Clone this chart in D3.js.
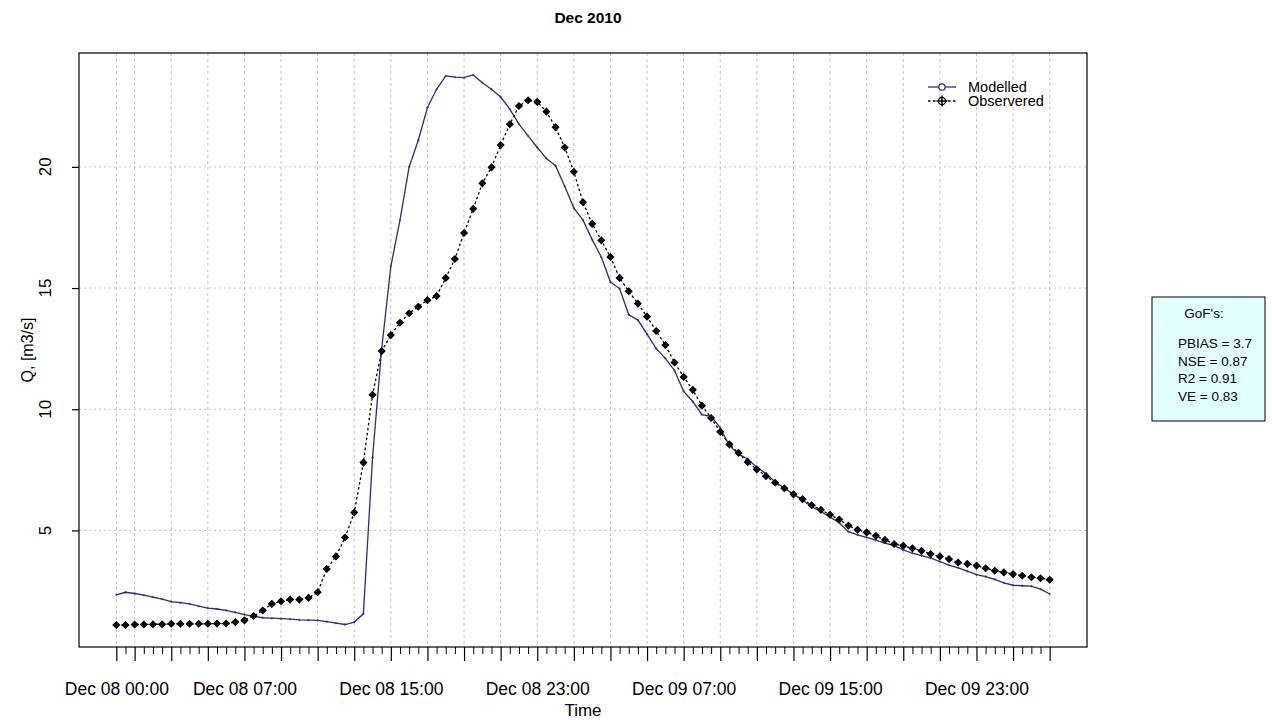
<!DOCTYPE html>
<html>
<head>
<meta charset="utf-8">
<script src="https://cdn.jsdelivr.net/npm/d3@7"></script>
<style>
  html, body { margin: 0; padding: 0; background: #fff; }
  svg { display: block; font-family: "Liberation Sans", Arial, sans-serif; }
</style>
</head>
<body>
<svg id="chart" width="1272" height="720"></svg>
<script>
// ---------------- data ----------------
const startTime = new Date(2010, 11, 8, 0, 0);   // Dec 08 2010 00:00
const stepMinutes = 30;

const modelled = [
  2.34, 2.45, 2.40, 2.33, 2.25, 2.17, 2.06, 2.02, 1.97, 1.88,
  1.80, 1.76, 1.70, 1.62, 1.53, 1.46, 1.40, 1.38, 1.36, 1.34,
  1.31, 1.30, 1.29, 1.24, 1.18, 1.12, 1.22, 1.56, 8.00, 12.50,
  15.90, 17.80, 20.00, 21.10, 22.45, 23.20, 23.75, 23.70, 23.68, 23.79,
  23.47, 23.20, 22.88, 22.38, 21.76, 21.28, 20.80, 20.35, 20.05, 19.20,
  18.30, 17.80, 17.00, 16.28, 15.25, 14.98, 13.90, 13.68, 13.10, 12.50,
  12.10, 11.60, 10.74, 10.32, 9.78, 9.71, 9.23, 8.50, 8.15, 7.95,
  7.60, 7.35, 7.00, 6.75, 6.50, 6.25, 5.98, 5.78, 5.55, 5.32,
  4.95, 4.82, 4.71, 4.60, 4.48, 4.37, 4.20, 4.06, 3.96, 3.86,
  3.72, 3.57, 3.46, 3.32, 3.18, 3.10, 2.98, 2.84, 2.74, 2.72,
  2.70, 2.58, 2.38
];

const observed = [
  1.10, 1.10, 1.12, 1.12, 1.13, 1.13, 1.15, 1.15, 1.15, 1.15,
  1.15, 1.16, 1.16, 1.22, 1.29, 1.47, 1.70, 1.97, 2.08, 2.15,
  2.15, 2.22, 2.45, 3.41, 3.93, 4.71, 5.74, 7.80, 10.60, 12.40,
  13.06, 13.57, 13.96, 14.23, 14.50, 14.67, 15.42, 16.20, 17.27, 18.27,
  19.32, 19.98, 20.90, 21.76, 22.51, 22.75, 22.68, 22.28, 21.63, 20.80,
  19.80, 18.54, 17.65, 16.97, 16.28, 15.42, 14.87, 14.36, 13.82, 13.23,
  12.65, 11.93, 11.33, 10.80, 10.15, 9.64, 9.07, 8.55, 8.20, 7.82,
  7.52, 7.24, 6.97, 6.74, 6.49, 6.29, 6.04, 5.85, 5.65, 5.45,
  5.20, 5.03, 4.92, 4.78, 4.61, 4.44, 4.37, 4.26, 4.16, 4.03,
  3.93, 3.82, 3.68, 3.62, 3.55, 3.44, 3.34, 3.27, 3.20, 3.13,
  3.07, 3.03, 2.97
];

// hours (from start) of the major ticks / labelled ticks
const majorTickHours = [0,1,3,5,7,9,11,13,15,17,19,21,23,25,27,29,31,33,35,37,39,41,43,45,47,49,51];
const labelTickHours = [0, 7, 15, 23, 31, 39, 47];
const labelTickTexts = ["Dec 08 00:00","Dec 08 07:00","Dec 08 15:00","Dec 08 23:00","Dec 09 07:00","Dec 09 15:00","Dec 09 23:00"];
const yTicks = [5, 10, 15, 20];
const gofLabels = ["PBIAS = 3.7", "NSE = 0.87", "R2 = 0.91", "VE = 0.83"];
const seriesNames = ["Modelled", "Observered"];

// ---------------- layout ----------------
const plot = { left: 79, right: 1087, top: 53, bottom: 647 };
const modColor = "#2a2a8a";
const gridColor = "#c4c4c4";

const hourMs = 3600 * 1000;
const times = observed.map((_, i) => new Date(startTime.getTime() + i * stepMinutes * 60000));
const hourToDate = h => new Date(startTime.getTime() + h * hourMs);

const t0 = times[0].getTime(), t1 = times[times.length - 1].getTime();
const tPad = 0.04 * (t1 - t0);
const x = d3.scaleTime()
  .domain([new Date(t0 - tPad), new Date(t1 + tPad)])
  .range([plot.left, plot.right]);

const allVals = modelled.concat(observed);
const vMin = d3.min(allVals), vMax = d3.max(allVals);
const vPad = 0.04 * (vMax - vMin);
const y = d3.scaleLinear()
  .domain([vMin - vPad, vMax + vPad])
  .range([plot.bottom, plot.top]);

const svg = d3.select("#chart");

// ---------------- grid ----------------
const grid = svg.append("g");
grid.selectAll("line.h").data(yTicks).join("line")
  .attr("x1", plot.left).attr("x2", plot.right)
  .attr("y1", d => y(d)).attr("y2", d => y(d))
  .attr("stroke", gridColor).attr("stroke-width", 1)
  .attr("stroke-dasharray", "2,3");
grid.selectAll("line.v").data(majorTickHours).join("line")
  .attr("x1", d => x(hourToDate(d))).attr("x2", d => x(hourToDate(d)))
  .attr("y1", plot.top).attr("y2", plot.bottom)
  .attr("stroke", gridColor).attr("stroke-width", 1)
  .attr("stroke-dasharray", "3,3");

// ---------------- series ----------------
const line = d3.line().x((d, i) => x(times[i])).y(d => y(d));

svg.append("path").datum(observed)
  .attr("d", line).attr("fill", "none")
  .attr("stroke", "#000").attr("stroke-width", 1.3)
  .attr("stroke-dasharray", "2.5,2.5");

svg.append("path").datum(modelled)
  .attr("d", line).attr("fill", "none")
  .attr("stroke", modColor).attr("stroke-width", 1.3);

// tiny markers on modelled
svg.append("g").selectAll("circle").data(modelled).join("circle")
  .attr("cx", (d, i) => x(times[i])).attr("cy", d => y(d))
  .attr("r", 0.8).attr("fill", "none").attr("stroke", modColor).attr("stroke-width", 0.7);

// diamond-plus markers on observed
function diamondPlus(cx, cy, r) {
  return `M${cx - r},${cy}L${cx},${cy - r}L${cx + r},${cy}L${cx},${cy + r}Z` +
         `M${cx - r},${cy}L${cx + r},${cy}M${cx},${cy - r}L${cx},${cy + r}`;
}
svg.append("g").selectAll("path").data(observed).join("path")
  .attr("d", (d, i) => diamondPlus(x(times[i]), y(d), 3.3))
  .attr("fill", "#222").attr("stroke", "#000").attr("stroke-width", 1.1);

// ---------------- frame ----------------
svg.append("rect")
  .attr("x", plot.left).attr("y", plot.top)
  .attr("width", plot.right - plot.left).attr("height", plot.bottom - plot.top)
  .attr("fill", "none").attr("stroke", "#000").attr("stroke-width", 1.2);

// ---------------- x axis ----------------
const minorHours = times.map((t, i) => i * stepMinutes / 60).filter(h => !majorTickHours.includes(h));
const xMinor = d3.axisBottom(x).tickValues(minorHours.map(hourToDate)).tickSize(7).tickSizeOuter(0).tickFormat("");
const gMinor = svg.append("g").attr("transform", `translate(0,${plot.bottom})`).call(xMinor);
gMinor.select(".domain").remove();

const labelMap = new Map(labelTickHours.map((h, i) => [h, labelTickTexts[i]]));
const xMajor = d3.axisBottom(x)
  .tickValues(majorTickHours.map(hourToDate))
  .tickSize(14).tickSizeOuter(0).tickPadding(22)
  .tickFormat(d => {
    const h = Math.round((d.getTime() - startTime.getTime()) / hourMs);
    return labelMap.has(h) ? labelMap.get(h) : "";
  });
const gMajor = svg.append("g").attr("transform", `translate(0,${plot.bottom})`).call(xMajor);
gMajor.select(".domain").remove();
gMajor.selectAll("line").attr("stroke", "#000").attr("stroke-width", 1.2);
gMinor.selectAll("line").attr("stroke", "#000").attr("stroke-width", 1);
gMajor.selectAll("text")
  .attr("font-size", 17.5).attr("fill", "#000")
  .attr("font-family", "'Liberation Sans', Arial, sans-serif");

svg.append("text").attr("x", (plot.left + plot.right) / 2).attr("y", 716)
  .attr("text-anchor", "middle").attr("font-size", 17).text("Time");

// ---------------- y axis ----------------
const yAxis = d3.axisLeft(y).tickValues(yTicks).tickSize(7).tickSizeOuter(0).tickFormat("");
const gY = svg.append("g").attr("transform", `translate(${plot.left},0)`).call(yAxis);
gY.select(".domain").remove();
gY.selectAll("line").attr("stroke", "#000").attr("stroke-width", 1.2);

svg.append("g").selectAll("text").data(yTicks).join("text")
  .attr("transform", d => `translate(${plot.left - 34},${y(d)}) rotate(-90)`)
  .attr("text-anchor", "middle").attr("dy", "0.36em")
  .attr("font-size", 17).text(d => d);

svg.append("text")
  .attr("transform", `translate(27,${(plot.top + plot.bottom) / 2}) rotate(-90)`)
  .attr("text-anchor", "middle").attr("dy", "0.36em")
  .attr("font-size", 16).text("Q, [m3/s]");

// ---------------- title ----------------
svg.append("text").attr("x", 588).attr("y", 23)
  .attr("text-anchor", "middle").attr("font-size", 15.5).attr("font-weight", "bold")
  .text("Dec 2010");

// ---------------- legend ----------------
const leg = svg.append("g");
const legY = [87, 101];
leg.append("line").attr("x1", 928).attr("x2", 956).attr("y1", legY[0]).attr("y2", legY[0])
  .attr("stroke", modColor).attr("stroke-width", 1.3);
leg.append("circle").attr("cx", 942).attr("cy", legY[0]).attr("r", 3.2)
  .attr("fill", "#fff").attr("stroke", modColor).attr("stroke-width", 1.3);
leg.append("line").attr("x1", 928).attr("x2", 956).attr("y1", legY[1]).attr("y2", legY[1])
  .attr("stroke", "#000").attr("stroke-width", 1.3).attr("stroke-dasharray", "2.5,2.5");
leg.append("circle").attr("cx", 942).attr("cy", legY[1]).attr("r", 3.6)
  .attr("fill", "#fff").attr("stroke", "#000").attr("stroke-width", 1.3);
leg.append("path").attr("d", `M936.5,${legY[1]}L947.5,${legY[1]}M942,${legY[1] - 5.5}L942,${legY[1] + 5.5}`)
  .attr("stroke", "#000").attr("stroke-width", 1.5);
leg.selectAll("text").data(seriesNames).join("text")
  .attr("x", 968).attr("y", (d, i) => legY[i]).attr("dy", "0.36em")
  .attr("font-size", 14.5).text(d => d);

// ---------------- GoF box ----------------
const gof = svg.append("g");
gof.append("rect").attr("x", 1152).attr("y", 297).attr("width", 113).attr("height", 124)
  .attr("fill", "#e2ffff").attr("stroke", "#000").attr("stroke-width", 1);
gof.append("text").attr("x", 1204).attr("y", 313).attr("dy", "0.36em")
  .attr("text-anchor", "middle").attr("font-size", 13.5).text("GoF's:");
gof.selectAll("text.g").data(gofLabels).join("text")
  .attr("x", 1178).attr("y", (d, i) => 343 + i * 17.8).attr("dy", "0.36em")
  .attr("font-size", 13.5).text(d => d);
</script>
</body>
</html>
